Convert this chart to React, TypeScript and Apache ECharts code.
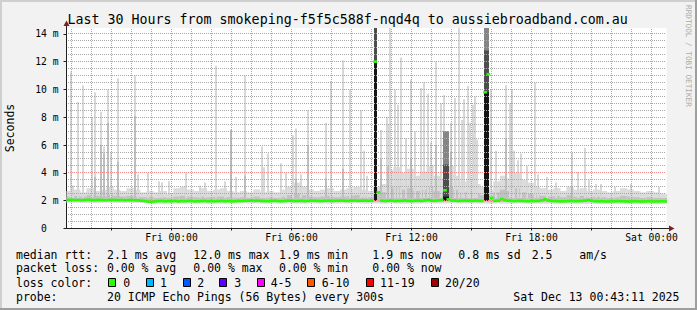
import React, { useEffect, useRef } from 'react';
import * as echarts from 'echarts';

// ---------------- data ----------------
const titleText = 'Last 30 Hours from smokeping-f5f5c588f-nqd4q to aussiebroadband.com.au';
const xLabelHours = [0, 6, 12, 18, 24];
const xLabelTexts = ['Fri 00:00', 'Fri 06:00', 'Fri 12:00', 'Fri 18:00', 'Sat 00:00'];
const xTickHours = [-3, 0, 3, 6, 9, 12, 15, 18, 21, 24];
const yLabelValues = [0, 2, 4, 6, 8, 10, 12, 14];
const yLabelTexts = ['0', '2 m', '4 m', '6 m', '8 m', '10 m', '12 m', '14 m'];

// hours relative to Fri 00:00
const startHour = -5.25;
const endHour = 24.75;
const yTop = 14.42;
const medianStepH = 1 / 6;
const bulkStepH = 1 / 3;

// median rtt (ms), one value per 10 minutes
const median = [
  2.05, 2.06, 2.04, 2.05, 2.03, 2.05, 2.07, 2.05, 2.04, 2.06,
  2.05, 2.03, 2.04, 2.06, 2.05, 2.04, 2.05, 2.03, 2.04, 2.05,
  2.03, 2.02, 2.0, 1.97, 1.93, 1.92, 1.95, 1.97, 1.98, 1.96,
  1.97, 1.96, 1.98, 1.95, 1.97, 1.96, 1.98, 1.97, 1.95, 1.96,
  1.97, 1.98, 1.96, 1.97, 1.95, 1.97, 1.98, 1.96, 1.97, 1.95,
  1.96, 1.98, 1.97, 1.99, 2.0, 2.01, 1.99, 2.0, 1.98, 1.97,
  1.96, 1.98, 1.99, 1.97, 1.96, 1.98, 2.0, 1.99, 1.97, 1.98,
  1.99, 1.97, 1.98, 2.0, 1.99, 1.98, 1.97, 1.99, 2.0, 1.98,
  1.99, 2.0, 2.01, 1.99, 1.98, 2.0, 2.01, 1.99, 2.0, 2.0,
  1.99, 2.0, 12.0, 2.6, 2.0, 1.98, 1.99, 2.0, 1.97, 1.98,
  1.99, 2.01, 1.98, 1.97, 1.99, 2.0, 1.98, 2.02, 2.05, 2.0,
  1.99, 2.02, 2.05, 2.75, 2.1, 2.02, 2.0, 1.98, 1.99, 2.0,
  1.99, 1.98, 2.0, 1.99, 1.98, 9.8, 11.1, 2.2, 1.98, 2.0,
  2.12, 2.05, 2.0, 1.98, 1.97, 1.99, 1.98, 1.97, 1.96, 1.98,
  1.97, 1.98, 2.03, 2.1, 2.02, 1.98, 1.97, 1.96, 1.95, 1.96,
  1.97, 1.98, 1.96, 1.97, 1.98, 2.0, 2.04, 1.99, 1.96, 1.95,
  1.96, 1.95, 1.94, 1.96, 1.95, 1.97, 1.96, 1.95, 1.94, 1.95,
  1.96, 1.95, 1.94, 1.95, 1.96, 1.95, 1.94, 1.95, 1.96, 1.95,
];

// continuous smoke, one value per 20 minutes
const bulkTop = [
  2.7, 2.8, 2.6, 2.9, 2.7, 2.8, 3.0, 2.8, 2.7,
  2.9, 2.8, 2.6, 2.7, 2.6, 2.7, 2.5,
  2.9, 3.0, 2.8, 2.7, 2.9, 2.7, 2.8, 2.9, 2.7,
  2.6, 2.7, 2.6, 2.8, 2.6, 2.7, 2.6, 2.8, 3.0,
  3.3, 3.0, 2.8, 2.7, 2.8, 2.9, 2.7, 2.8, 2.9, 3.0, 2.8, 2.7,
  3.0, 3.2, 4.2, 4.4, 4.0, 4.3, 3.8, 4.1, 4.5, 3.8, 3.6, 4.5, 3.8, 3.4, 3.6, 3.2, 3.0,
  2.8, 3.4, 3.8, 3.6, 4.0, 3.5, 3.3, 3.0, 2.9,
  2.8, 2.9, 2.7, 3.0, 2.8, 2.9, 2.7, 2.8, 2.7, 2.6, 2.7, 2.9, 2.8, 2.7, 2.6, 2.7, 2.6, 2.5,
];
const bulkInner = [
  2.3, 2.35, 2.3, 2.4, 2.35, 2.3, 2.45, 2.35, 2.3,
  2.35, 2.3, 2.25, 2.3, 2.2, 2.25, 2.2,
  2.3, 2.35, 2.3, 2.25, 2.3, 2.25, 2.3, 2.3, 2.25,
  2.2, 2.25, 2.2, 2.3, 2.2, 2.25, 2.2, 2.3, 2.4,
  2.5, 2.4, 2.3, 2.25, 2.3, 2.35, 2.25, 2.3, 2.35, 2.4, 2.3, 2.25,
  2.5, 2.6, 2.9, 3.0, 2.8, 2.9, 2.7, 2.8, 3.0, 2.7, 2.6, 3.0, 2.8, 2.6, 2.7, 2.5, 2.4,
  2.35, 2.6, 2.8, 2.7, 2.9, 2.6, 2.5, 2.4, 2.35,
  2.3, 2.35, 2.25, 2.4, 2.3, 2.35, 2.25, 2.3, 2.25, 2.2, 2.25, 2.35, 2.3, 2.25, 2.2, 2.25, 2.2, 2.2,
];
const bulkBottom = [
  1.85, 1.86, 1.84, 1.85, 1.83, 1.85, 1.86, 1.85, 1.84,
  1.85, 1.84, 1.83, 1.82, 1.78, 1.76, 1.78,
  1.79, 1.78, 1.8, 1.78, 1.79, 1.77, 1.79, 1.78, 1.8,
  1.8, 1.81, 1.79, 1.8, 1.78, 1.8, 1.79, 1.78, 1.8,
  1.79, 1.78, 1.8, 1.79, 1.8, 1.78, 1.79, 1.8, 1.8, 1.81, 1.79, 1.8,
  1.8, 1.78, 1.8, 1.79, 1.78, 1.8, 1.79, 1.8, 1.81, 1.79, 1.8, 1.82, 1.8, 1.79, 1.8, 1.79, 1.8,
  1.78, 1.8, 1.79, 1.78, 1.8, 1.79, 1.78, 1.79, 1.78,
  1.78, 1.77, 1.78, 1.79, 1.78, 1.77, 1.78, 1.77, 1.76, 1.77, 1.78, 1.77, 1.76, 1.77, 1.76, 1.77, 1.76, 1.77,
];

// single-sample smoke spikes: [hour, max ping ms, darker inner top ms (0 = none)]
const spikes: [number, number, number][] = [
  [-5.015, 11.3, 0], [-4.915, 3.1, 0], [-4.68, 9.1, 0], [-4.415, 10.3, 0],
  [-3.965, 8.0, 0], [-3.83, 9.8, 3.7], [-3.53, 8.4, 6.0], [-3.38, 5.9, 5.4],
  [-3.165, 10.0, 7.6], [-3.04, 5.5, 0], [-2.69, 10.8, 4.8], [-1.815, 11.0, 8.1],
  [-1.69, 3.9, 0], [-1.165, 4.0, 0], [-0.615, 3.4, 0], [-0.48, 3.3, 0],
  [-0.115, 3.4, 0], [0.72, 4.0, 0], [1.4, 3.1, 0], [1.685, 3.3, 0],
  [2.22, 11.7, 0], [2.685, 3.4, 0], [2.985, 7.1, 7.1], [3.2, 3.7, 0],
  [3.67, 11.0, 3.8], [4.5, 5.9, 0], [4.635, 4.4, 0], [4.82, 5.4, 0],
  [5.45, 4.7, 0], [5.72, 4.0, 0], [6.085, 6.7, 0], [6.2, 7.2, 3.6],
  [6.47, 3.9, 0], [6.82, 8.5, 6.0], [7.72, 7.6, 3.6], [7.985, 10.6, 0],
  [8.585, 12.1, 4.3], [8.9, 10.0, 0], [9.45, 8.5, 0], [9.62, 5.6, 0],
  [9.785, 3.8, 0], [10.485, 7.1, 5.0], [10.76, 8.0, 0], [10.835, 7.5, 4.5],
  [10.935, 14.6, 0], [11.15, 10.0, 0], [11.335, 8.9, 0], [11.485, 12.3, 0],
  [11.74, 6.5, 0], [11.985, 10.7, 5.0], [12.19, 7.0, 0], [12.46, 10.1, 0],
  [12.6, 10.5, 0], [12.8, 9.7, 0], [12.98, 6.2, 0], [13.22, 12.0, 6.0],
  [13.485, 9.0, 0], [13.61, 9.6, 0], [13.985, 7.6, 5.5], [14.17, 9.4, 0],
  [14.35, 14.6, 0], [14.5, 7.8, 0], [14.62, 9.3, 0], [14.81, 10.25, 0],
  [14.92, 7.6, 0], [15.07, 8.9, 0], [15.17, 9.5, 0], [15.26, 6.4, 0],
  [15.95, 10.0, 0], [16.235, 5.6, 0], [16.71, 10.3, 6.5], [16.92, 9.0, 0],
  [17.035, 10.0, 0], [17.135, 5.6, 0], [17.32, 4.9, 0], [17.485, 5.4, 0],
  [17.77, 4.5, 0], [18.185, 10.5, 0], [18.3, 3.9, 0], [18.785, 3.7, 0],
  [19.22, 3.3, 0], [20.0, 5.45, 3.0], [20.32, 4.06, 0], [20.65, 5.8, 0],
  [20.885, 3.5, 0], [21.22, 3.2, 0], [21.45, 3.2, 0], [22.15, 3.0, 0],
  [22.985, 3.2, 0], [24.385, 3.0, 0],
];

// heavily delayed samples: [hour start, hour end, black top, dark top, gray top]
const heavyColumns: [number, number, number, number, number][] = [
  [10.12, 10.26, 11.9, 15, 15],
  [13.58, 13.86, 2.3, 4.6, 7.0],
  [15.62, 15.88, 9.8, 12.8, 15],
];

const rttStats = ['2.1 ms avg', '12.0 ms max', '1.9 ms min', '1.9 ms now', '0.8 ms sd', '2.5', 'am/s'];
const lossStats = ['0.00 % avg', '0.00 % max', '0.00 % min', '0.00 % now'];
const lossLabels = ['0', '1', '2', '3', '4-5', '6-10', '11-19', '20/20'];
const lossColors = ['#26ff00', '#00b8ff', '#0059ff', '#5e00ff', '#ff00ff', '#ff5500', '#ff0000', '#a10000'];
const probeText = '20 ICMP Echo Pings (56 Bytes) every 300s';
const dateText = 'Sat Dec 13 00:43:11 2025';

// ---------------- layout ----------------
const MONO = 'DejaVu Sans Mono';
const gridLeft = 66.5;
const gridTop = 28;
const gridBottomY = 228.5;
const gridRightX = 666.5;

const cy = (v: number) => Math.max(0, Math.min(yTop, v));
const cx = (h: number) => Math.max(startHour, Math.min(endHour, h));

// a dotted grid line made of 1x1 pixel squares (1 on, 1 off)
echarts.graphic.registerShape(
  'dotLine',
  (echarts.graphic as any).extendShape({
    shape: { x1: 0, y1: 0, x2: 0, y2: 0 },
    buildPath(ctx: any, s: any) {
      if (s.y1 === s.y2) {
        for (let x = s.x1; x < s.x2; x += 2) ctx.rect(x, s.y1, 1, 1);
      } else {
        for (let y = s.y1; y < s.y2; y += 2) ctx.rect(s.x1, y, 1, 1);
      }
    },
  }),
);

function buildOption() {
  const bulkData = bulkTop.map((t, j) => [
    startHour + j * bulkStepH, startHour + (j + 1) * bulkStepH, bulkBottom[j], bulkInner[j], t,
  ]);
  const medianData = median.map((v, i) => [startHour + i * medianStepH, startHour + (i + 1) * medianStepH, v]);

  const renderBulk = (params: any, api: any) => {
    const h0 = cx(api.value(0)), h1 = cx(api.value(1));
    const lo = api.value(2), inner = api.value(3), top = api.value(4);
    const a = api.coord([h0, cy(lo)]);
    const b = api.coord([h1, cy(top)]);
    const c = api.coord([h1, cy(inner)]);
    const d = api.coord([h0, cy(lo + 0.12)]);
    const w = b[0] - a[0] + 0.6;
    return {
      type: 'group',
      children: [
        { type: 'rect', shape: { x: a[0], y: b[1], width: w, height: a[1] - b[1] }, style: { fill: '#dcdcdc' } },
        { type: 'rect', shape: { x: a[0], y: c[1], width: w, height: d[1] - c[1] }, style: { fill: '#c2c2c2' } },
      ],
    };
  };

  const renderSpike = (params: any, api: any) => {
    const h = api.value(0), top = api.value(1), inner = api.value(2);
    const base = api.coord([h, 2.2]);
    const t = api.coord([h, cy(top)]);
    const x0 = Math.round(base[0] - 1);
    const children: any[] = [
      { type: 'rect', shape: { x: x0, y: t[1], width: 2, height: base[1] - t[1] }, style: { fill: '#d8d8d8' } },
    ];
    if (inner > 0) {
      const ip = api.coord([h, cy(inner)]);
      children.push({ type: 'rect', shape: { x: x0, y: ip[1], width: 2, height: base[1] - ip[1] }, style: { fill: '#bebebe' } });
    }
    return { type: 'group', children };
  };

  const renderHeavy = (params: any, api: any) => {
    const h0 = api.value(0), h1 = api.value(1);
    const layers = [
      [api.value(4), '#858585'],
      [api.value(3), '#4d4d4d'],
      [api.value(2), '#151515'],
    ];
    const base = api.coord([h0, 2.0]);
    const right = api.coord([h1, 2.0]);
    const x0 = Math.round(base[0]);
    const w = Math.max(1, Math.round(right[0]) - x0);
    return {
      type: 'group',
      children: layers.map(([v, col]) => {
        const p = api.coord([h0, cy(v as number)]);
        return {
          type: 'rect',
          shape: { x: x0, y: p[1], width: w, height: base[1] - p[1] },
          style: { fill: col },
        };
      }),
    };
  };

  const renderMedian = (params: any, api: any) => {
    const a = api.coord([cx(api.value(0)), api.value(2)]);
    const b = api.coord([cx(api.value(1)), api.value(2)]);
    return {
      type: 'rect',
      shape: { x: a[0], y: a[1] - 1.3, width: b[0] - a[0] + 0.4, height: 2.6 },
      style: { fill: '#26ff00' },
    };
  };

  const minorGrid = '#a8a8a8';
  const majorGrid = '#e68a8a';
  const renderGrid = (params: any, api: any) => {
    const cs = params.coordSys;
    const left = Math.ceil(cs.x), right = Math.floor(cs.x + cs.width);
    const top = Math.ceil(cs.y), bottom = Math.floor(cs.y + cs.height);
    const children: any[] = [];
    for (let k = 1; k <= 28; k++) {
      const y = Math.floor(api.coord([startHour, k * 0.5])[1]);
      children.push({
        type: 'dotLine', shape: { x1: left + 1, y1: y, x2: right, y2: y },
        style: { fill: k % 4 === 0 ? majorGrid : minorGrid, stroke: null },
      });
    }
    for (let h = -5; h <= 24; h++) {
      const x = Math.floor(api.coord([h, 0])[0]);
      children.push({
        type: 'dotLine', shape: { x1: x, y1: top + 1, x2: x, y2: bottom },
        style: { fill: h % 3 === 0 ? majorGrid : minorGrid, stroke: null },
      });
    }
    return { type: 'group', children };
  };

  const textStyle = (text: string, x: number, y: number, size = 11.5, extra: any = {}) => ({
    type: 'text', x, y, silent: true,
    style: {
      text, fill: '#000', fontSize: size, fontFamily: MONO,
      align: 'left', textAlign: 'left', verticalAlign: 'middle', textVerticalAlign: 'middle', ...extra,
    },
  });

  const rttX = [107, 193.3, 279, 372.3, 458.3, 531.7, 579.3];
  const lossX = [107, 193.3, 279, 372.3];
  const boxX = [108.3, 145.7, 182.7, 219.3, 256.7, 307.3, 365.7, 430.7];
  const boxLabelX = [123.3, 160, 197.3, 234.3, 270.7, 321.7, 380, 445];
  const line1 = 254.7, line2 = 268.2, line3 = 282.5, line4 = 296.7;

  const graphic: any[] = [
    { type: 'rect', shape: { x: 0, y: 0, width: 697, height: 2 }, style: { fill: '#cfcfcf' }, silent: true },
    { type: 'rect', shape: { x: 0, y: 0, width: 2, height: 310 }, style: { fill: '#cfcfcf' }, silent: true },
    { type: 'rect', shape: { x: 0, y: 308, width: 697, height: 2 }, style: { fill: '#9e9e9e' }, silent: true },
    { type: 'rect', shape: { x: 695, y: 0, width: 2, height: 310 }, style: { fill: '#9e9e9e' }, silent: true },
    { type: 'line', shape: { x1: gridLeft, y1: gridTop, x2: gridLeft, y2: 24 }, style: { stroke: '#1f1f1f', lineWidth: 1 }, silent: true, z: 20 },
    { type: 'polygon', shape: { points: [[63.5, 26], [69.5, 26], [66.5, 20.5]] }, style: { fill: '#7f1f1f' }, silent: true, z: 20 },
    { type: 'line', shape: { x1: gridRightX, y1: gridBottomY, x2: 670, y2: gridBottomY }, style: { stroke: '#1f1f1f', lineWidth: 1 }, silent: true, z: 20 },
    { type: 'polygon', shape: { points: [[669, 225.5], [669, 231.5], [674.5, 228.5]] }, style: { fill: '#7f1f1f' }, silent: true, z: 20 },
    textStyle(titleText, 67.5, 19.3, 13.3),
    {
      type: 'text', x: 9.5, y: 128, rotation: Math.PI / 2, silent: true,
      style: { text: 'Seconds', fill: '#000', fontSize: 11.5, fontFamily: MONO, align: 'center', textAlign: 'center', verticalAlign: 'middle', textVerticalAlign: 'middle' },
    },
    {
      type: 'text', x: 688, y: 5, rotation: -Math.PI / 2, silent: true,
      style: { text: 'RRDTOOL / TOBI OETIKER', fill: '#ababab', fontSize: 7.7, fontFamily: MONO, align: 'left', textAlign: 'left', verticalAlign: 'middle', textVerticalAlign: 'middle' },
    },
    textStyle('median rtt:', 16, line1),
    ...rttStats.map((s, i) => textStyle(s, rttX[i], line1)),
    textStyle('packet loss:', 16, line2),
    ...lossStats.map((s, i) => textStyle(s, lossX[i], line2)),
    textStyle('loss color:', 16, line3),
    ...lossLabels.map((s, i) => textStyle(s, boxLabelX[i], line3)),
    ...lossColors.map((c, i) => ({
      type: 'rect', silent: true,
      shape: { x: Math.round(boxX[i]) + 0.5, y: 278.5, width: 7, height: 8 },
      style: { fill: c, stroke: '#000', lineWidth: 1 },
    })),
    textStyle('probe:', 16, line4),
    textStyle(probeText, 107, line4),
    textStyle(dateText, 513.3, line4),
  ];

  return {
    animation: false,
    backgroundColor: '#f2f2f2',
    grid: {
      left: gridLeft, top: gridTop, width: gridRightX - gridLeft, height: gridBottomY - gridTop,
      show: true, backgroundColor: '#ffffff', borderWidth: 0,
    },
    xAxis: {
      type: 'value', min: startHour, max: endHour,
      axisLine: { show: true, onZero: false, lineStyle: { color: '#1f1f1f', width: 1 } },
      axisTick: { show: true, customValues: xTickHours, length: 2, lineStyle: { color: '#1f1f1f' } },
      axisLabel: {
        show: true, customValues: xLabelHours, margin: 3.5,
        fontFamily: MONO, fontSize: 9.7, color: '#000',
        formatter: (v: number) => xLabelTexts[xLabelHours.indexOf(Math.round(v))] ?? '',
      },
      splitLine: { show: false },
    },
    yAxis: {
      type: 'value', min: 0, max: yTop,
      axisLine: { show: true, onZero: false, lineStyle: { color: '#1f1f1f', width: 1 } },
      axisTick: { show: true, customValues: yLabelValues, length: 3, lineStyle: { color: '#1f1f1f' } },
      axisLabel: {
        show: true, customValues: yLabelValues, margin: 8,
        fontFamily: MONO, fontSize: 9.7, color: '#000',
        formatter: (v: number) => {
          const idx = yLabelValues.indexOf(Math.round(v));
          if (idx < 0) return '';
          return idx === 0 ? '{z|' + yLabelTexts[0] + '}' : yLabelTexts[idx];
        },
        rich: { z: { fontFamily: MONO, fontSize: 9.7, color: '#000', padding: [0, 11.7, 0, 0] } },
      },
      splitLine: { show: false },
    },
    series: [
      { type: 'custom', name: 'smoke', z: 1, silent: true, renderItem: renderBulk, encode: { x: [0, 1], y: [2, 3, 4] }, data: bulkData },
      { type: 'custom', name: 'spikes', z: 2, silent: true, renderItem: renderSpike, encode: { x: 0, y: [1, 2] }, data: spikes },
      { type: 'custom', name: 'heavy', z: 3, silent: true, renderItem: renderHeavy, encode: { x: [0, 1], y: [2, 3, 4] }, data: heavyColumns },
      { type: 'custom', name: 'grid', z: 4, silent: true, renderItem: renderGrid, encode: { x: 0, y: 1 }, data: [[startHour, 0]] },
      { type: 'custom', name: 'median', z: 5, silent: true, renderItem: renderMedian, encode: { x: [0, 1], y: 2 }, data: medianData },
    ],
    graphic,
  };
}

export default function App() {
  const ref = useRef<HTMLDivElement>(null);
  useEffect(() => {
    if (!ref.current) return;
    const chart = echarts.init(ref.current, null, { renderer: 'svg', width: 697, height: 310 });
    chart.setOption(buildOption() as any);
    return () => chart.dispose();
  }, []);
  return <div ref={ref} style={{ position: 'fixed', left: 0, top: 0, width: 697, height: 310 }} />;
}
